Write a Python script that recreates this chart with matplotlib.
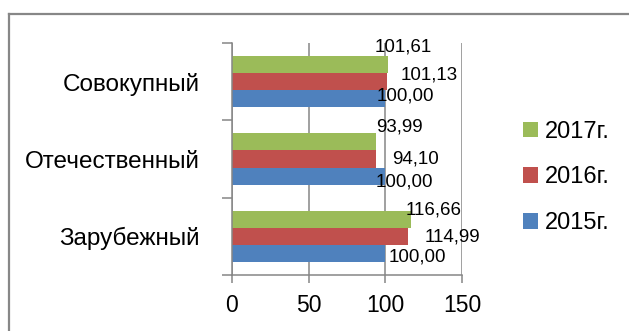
import matplotlib
matplotlib.use('Agg')
import matplotlib.pyplot as plt
from matplotlib.lines import Line2D
import numpy as np

plt.rcParams['font.family'] = ['Liberation Sans', 'DejaVu Sans']

categories = ['Зарубежный', 'Отечественный', 'Совокупный']
years = ['2015г.', '2016г.', '2017г.']
v2015 = [100.00, 100.00, 100.00]
v2016 = [114.99, 94.10, 101.13]
v2017 = [116.66, 93.99, 101.61]

colors = ['#4F81BD', '#C0504D', '#9BBB59']
# label nudges (px) from the bar end, per series, per category
nudges = [
    [(3.7, 3.4), (-9.3, 5.7), (-8.6, -2.2)],
    [(16, 0.4), (15.7, 0), (13.7, -6.7)],
    [(-5, -9.3), (0, -15.3), (-13.5, -17.8)],
]

W, H = 629, 331
fig = plt.figure(figsize=(W / 100, H / 100), dpi=100)
ax = fig.add_axes([232 / W, 1 - 275 / H, 230 / W, 232 / H])

y = np.arange(len(categories))
h = 0.22
gray = '#868686'
for i, (vals, c, lab) in enumerate(zip([v2015, v2016, v2017], colors, years)):
    yy = y + (i - 1) * h
    ax.barh(yy, vals, height=h, color=c, label=lab, zorder=3)
    for j, v in enumerate(vals):
        dx, dy = nudges[i][j]
        ax.annotate(f'{v:.2f}'.replace('.', ','), xy=(v, yy[j]),
                    xytext=(dx * 0.72, -dy * 0.72), textcoords='offset points',
                    ha='left', va='center', fontsize=13.5, zorder=5)

ax.set_xlim(0, 150)
ax.set_ylim(-0.5, 2.5)
ax.set_xticks([0, 50, 100, 150])
ax.set_yticks(y)
ax.set_yticklabels(categories)
ax.set_yticks([-0.5, 0.5, 1.5, 2.5], minor=True)
ax.tick_params(axis='y', which='major', length=0, pad=23, labelsize=17.5)
ax.tick_params(axis='y', which='minor', length=7, width=1.1, color=gray)
ax.tick_params(axis='x', length=6, width=1.1, color=gray, pad=8, labelsize=16.5)
ax.xaxis.grid(True, color=gray, linewidth=1.1, zorder=0)
for s in ['top', 'right']:
    ax.spines[s].set_visible(False)
for s in ['left', 'bottom']:
    ax.spines[s].set_color(gray)
    ax.spines[s].set_linewidth(1.1)
    ax.spines[s].set_zorder(4)

handles, labels = ax.get_legend_handles_labels()
fig.legend(handles[::-1], labels[::-1], loc='upper left',
           bbox_to_anchor=(511 / W, 1 - 109 / H), frameon=False,
           fontsize=17, handlelength=0.65, handleheight=0.65,
           handletextpad=0.3, labelspacing=1.0, borderpad=0)

# outer chart border
fig.add_artist(Line2D([8.5 / W, 1], [1 - 13.5 / H] * 2, color='#878787', linewidth=1.6))
fig.add_artist(Line2D([8.5 / W] * 2, [0, 1 - 13.5 / H], color='#878787', linewidth=1.6))

fig.savefig('out.png', dpi=100)
